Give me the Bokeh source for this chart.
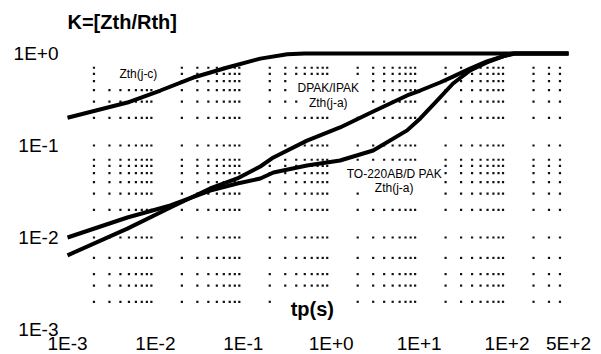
import math
from bokeh.plotting import figure
from bokeh.models import Label, LabelSet, ColumnDataSource, Range1d
from bokeh.core.properties import value
from bokeh.embed import file_html
from bokeh.resources import INLINE

FONT = "Liberation Sans"

# Pulse duration tp (s) and normalized thermal impedance K = Zth/Rth
jc_t = [0.001, 0.0048, 0.0114, 0.027, 0.0658, 0.156, 0.316, 0.5, 500]
jc_k = [0.20, 0.293, 0.396, 0.548, 0.705, 0.88, 0.98, 1.0, 1.0]

dpak_t = [0.001, 0.0048, 0.0148, 0.042, 0.0855, 0.156, 0.22, 0.53, 1.26, 3.0,
          7.3, 10.3, 17.3, 24.3, 38, 59, 90, 123, 500]
dpak_k = [0.0064, 0.0125, 0.0212, 0.0341, 0.0438, 0.0591, 0.0741, 0.113, 0.157, 0.234,
          0.35, 0.396, 0.484, 0.56, 0.687, 0.82, 0.93, 1.0, 1.0]

to220_t = [0.001, 0.0048, 0.0148, 0.042, 0.0855, 0.156, 0.22, 0.53, 1.26, 3.0,
           7.3, 10.3, 16.0, 24.3, 38, 59, 90, 115, 500]
to220_k = [0.0100, 0.0165, 0.0223, 0.0324, 0.0386, 0.0438, 0.0509, 0.0606, 0.0687, 0.0882,
           0.146, 0.197, 0.308, 0.472, 0.654, 0.80, 0.93, 1.0, 1.0]

# Axis ticks and their printed labels
x_ticks = [1e-3, 1e-2, 1e-1, 1, 10, 100, 500]
x_labels = ["1E-3", "1E-2", "1E-1", "1E+0", "1E+1", "1E+2", "5E+2"]
y_ticks = [1e-3, 1e-2, 1e-1, 1]
y_labels = ["1E-3", "1E-2", "1E-1", "1E+0"]

# Dotted background grid: rows of K and log-minor columns of tp
grid_rows = [0.7, 0.6, 0.5, 0.4, 0.3, 0.2, 0.1, 0.07, 0.06, 0.05, 0.04, 0.03, 0.02,
             0.01, 0.006, 0.004, 0.003, 0.002]
grid_decades = [1e-3, 1e-2, 1e-1, 1, 10, 100]
grid_mults = [2, 3, 4, 5, 6, 7, 8, 9]

# Curve annotations
note_t = [0.0064, 0.925, 0.925, 5.2, 5.2]
note_k = [0.606, 0.427, 0.293, 0.0484, 0.0341]
note_text = ["Zth(j-c)", "DPAK/IPAK", "Zth(j-a)", "TO-220AB/D PAK", "Zth(j-a)"]

# Axis title positions
x_title_t, x_title_k = 0.61, 0.00165

# Data window and page layout
T_MIN, T_MAX = 1e-3, 500
K_MIN, K_MAX = 1e-3, 1.0
W, H = 601, 354
LEFT, RIGHT, TOP, BOTTOM = 67, 33, 53, 25

# The plotting frame spans the whole page; the ranges are widened so that the
# data window sits inside the margins and all labels are drawn within the frame.
dec_x = math.log10(T_MAX) - math.log10(T_MIN)
dec_y = math.log10(K_MAX) - math.log10(K_MIN)
px_dec_x = (W - LEFT - RIGHT) / dec_x
px_dec_y = (H - TOP - BOTTOM) / dec_y
x_range = Range1d(10 ** (math.log10(T_MIN) - LEFT / px_dec_x),
                  10 ** (math.log10(T_MAX) + RIGHT / px_dec_x))
y_range = Range1d(10 ** (math.log10(K_MIN) - BOTTOM / px_dec_y),
                  10 ** (math.log10(K_MAX) + TOP / px_dec_y))

p = figure(width=W, height=H, x_axis_type="log", y_axis_type="log",
           x_range=x_range, y_range=y_range,
           x_axis_location=None, y_axis_location=None,
           output_backend="svg", toolbar_location=None, min_border=0)
p.outline_line_color = None
p.background_fill_color = "white"
p.border_fill_color = "white"
p.xgrid.grid_line_color = None
p.ygrid.grid_line_color = None


def near_text(t, k):
    boxes = [(nt, nk, len(s) * 6.6 / 2 + 4, 10) for nt, nk, s in zip(note_t, note_k, note_text)]
    boxes.append((x_title_t, x_title_k, 30, 14))
    for bt, bk, hw, hh in boxes:
        if (abs(math.log10(t) - math.log10(bt)) < hw / px_dec_x
                and abs(math.log10(k) - math.log10(bk)) < hh / px_dec_y):
            return True
    return False


gx, gy = [], []
for k in grid_rows:
    for d in grid_decades:
        for m in grid_mults:
            t = d * m
            if t < T_MAX and not near_text(t, k):
                gx.append(t)
                gy.append(k)
p.scatter(gx, gy, marker="square", size=2.2, fill_color="#111111", line_color=None)

# Thermal impedance curves
for t, k in ((jc_t, jc_k), (dpak_t, dpak_k), (to220_t, to220_k)):
    p.line(t, k, line_color="black", line_width=4, line_join="round")

src = ColumnDataSource(dict(x=note_t, y=note_k, text=note_text))
p.text(x="x", y="y", text="text", source=src, text_font=value(FONT), text_font_size="12px",
       text_align="center", text_baseline="middle", text_color="black")

# Tick labels
xsrc = ColumnDataSource(dict(x=x_ticks, y=[K_MIN] * len(x_ticks), text=x_labels))
p.add_layout(LabelSet(x="x", y="y", text="text", source=xsrc, y_offset=-14,
                      text_align="center", text_baseline="middle",
                      text_font=value(FONT), text_font_size="19px", text_color="black"))
ysrc = ColumnDataSource(dict(x=[T_MIN] * len(y_ticks), y=y_ticks, text=y_labels))
p.add_layout(LabelSet(x="x", y="y", text="text", source=ysrc, x_offset=-9,
                      text_align="right", text_baseline="middle",
                      text_font=value(FONT), text_font_size="19px", text_color="black"))

# Axis titles
p.add_layout(Label(x=T_MIN, y=K_MAX, y_offset=32, text="K=[Zth/Rth]",
                   text_font=FONT, text_font_size="20px", text_font_style="bold",
                   text_color="black", text_align="left", text_baseline="middle"))
p.add_layout(Label(x=x_title_t, y=x_title_k, text="tp(s)", text_font=FONT,
                   text_font_size="20px", text_font_style="bold", text_color="black",
                   text_align="center", text_baseline="middle"))

open("out.html", "w").write(file_html(p, INLINE))
